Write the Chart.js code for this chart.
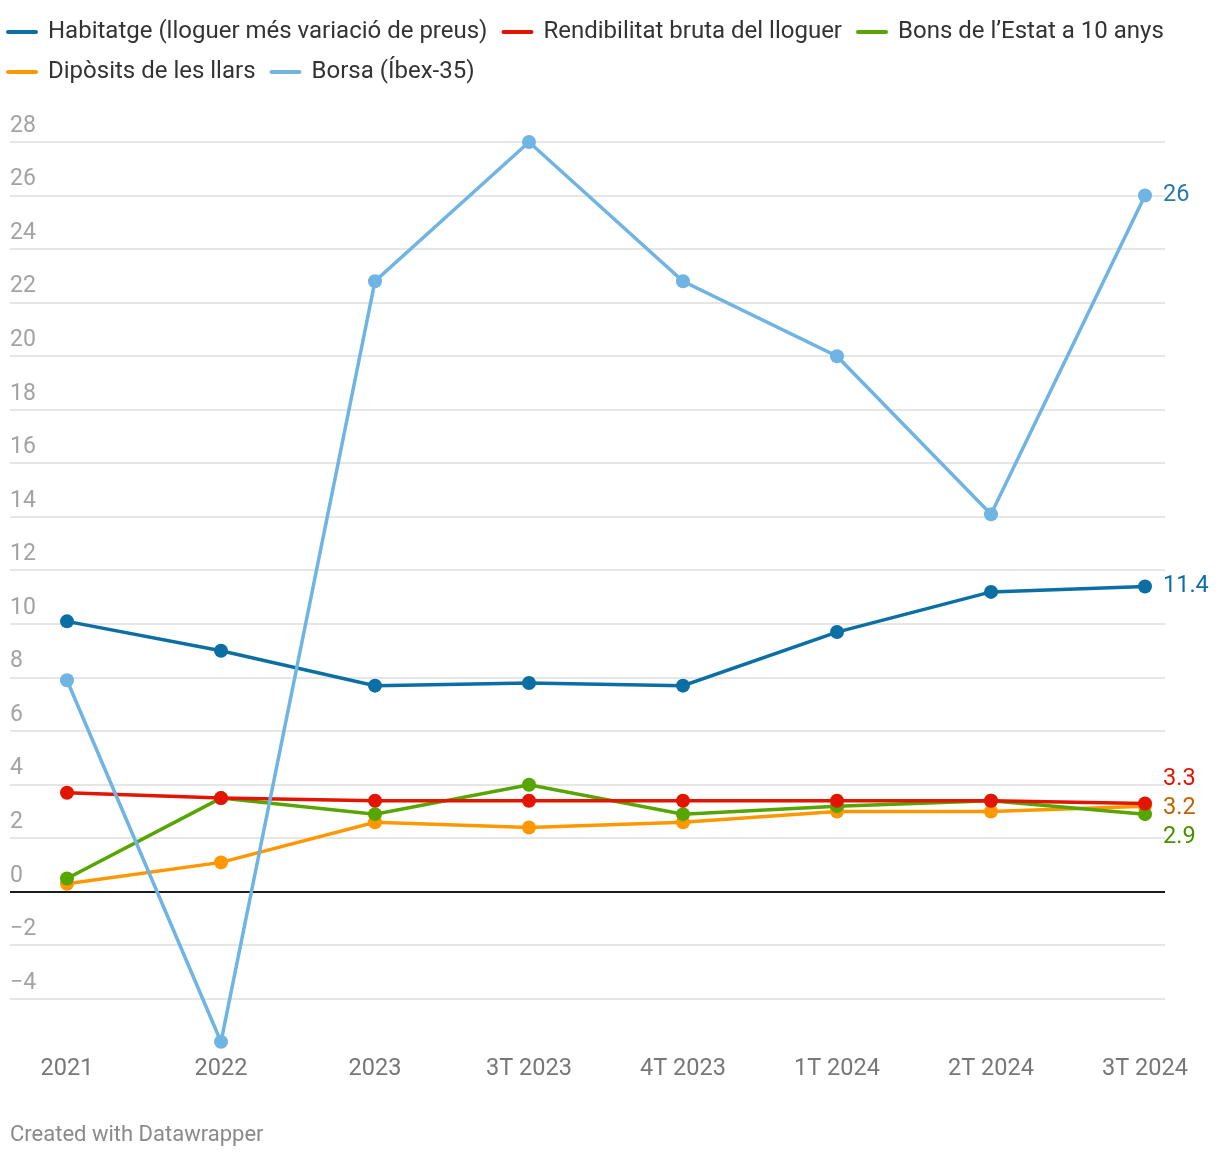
<!DOCTYPE html>
<html>
<head>
<meta charset="utf-8">
<script src="https://cdn.jsdelivr.net/npm/chart.js@4.4.1/dist/chart.umd.min.js"></script>
<style>
  body { margin: 0; background: #fff; font-family: Roboto, sans-serif; }
  #wrap { position: relative; width: 1220px; height: 1158px; }
  #credit { position: absolute; left: 10px; top: 1121px; font-size: 22px; color: #8a8a8a; }
</style>
</head>
<body>
<div id="wrap">
  <canvas id="myChart" width="1220" height="1158"></canvas>
  <div id="credit">Created with Datawrapper</div>
</div>
<script>
const ctx = document.getElementById('myChart');

const periods = ['2021', '2022', '2023', '3T 2023', '4T 2023', '1T 2024', '2T 2024', '3T 2024'];
const habitatge = [10.1, 9.0, 7.7, 7.8, 7.7, 9.7, 11.2, 11.4];
const rendibilitat = [3.7, 3.5, 3.4, 3.4, 3.4, 3.4, 3.4, 3.3];
const bons = [0.5, 3.5, 2.9, 4.0, 2.9, 3.2, 3.4, 2.9];
const diposits = [0.3, 1.1, 2.6, 2.4, 2.6, 3.0, 3.0, 3.2];
const borsa = [7.9, -5.6, 22.8, 28.0, 22.8, 20.0, 14.1, 26.0];

const seriesNames = ['Habitatge (lloguer més variació de preus)', 'Rendibilitat bruta del lloguer',
    'Bons de l\u2019Estat a 10 anys', 'Dipòsits de les llars', 'Borsa (Íbex-35)'];
const lineColors = ['#0b6fa4', '#e31400', '#56a500', '#ff9800', '#6fb4e3'];
const labelColors = ['#0b6fa4', '#e31400', '#4a8f00', '#c06400', '#2b78ac'];
// lower order -> drawn on top
const drawOrder = [1, 2, 3, 4, 0];

function makeSet(i, data) {
    return {
        label: seriesNames[i],
        data: data,
        borderColor: lineColors[i],
        backgroundColor: lineColors[i],
        borderWidth: 3.5,
        pointRadius: 7,
        pointHoverRadius: 7,
        pointBorderWidth: 0,
        borderCapStyle: 'round',
        tension: 0,
        order: drawOrder[i],
        clip: false,
    };
}

// gridlines across the full width, incl. the zero line
const gridPlugin = {
    id: 'grid',
    afterLayout(chart) {
        // legend sits flush with the left edge and at the very top
        chart.legend.left = 8 - chart.legend.options.labels.padding;
        chart.legend.top = 4;
    },
    beforeDatasetsDraw(chart) {
        const y = chart.scales.y;
        const c = chart.ctx;
        c.save();
        y.ticks.forEach(t => {
            const py = Math.round(y.getPixelForValue(t.value));
            c.beginPath();
            c.lineWidth = 2;
            c.strokeStyle = t.value === 0 ? '#1a1a1a' : '#e6e6e6';
            c.moveTo(10, py);
            c.lineTo(chart.chartArea.right + 20, py);
            c.stroke();
        });
        c.restore();
    }
};

// value labels at the end of each line, spread when they collide
const endLabels = {
    id: 'endLabels',
    afterDatasetsDraw(chart) {
        const c = chart.ctx;
        let items = chart.data.datasets.map((ds, i) => {
            const meta = chart.getDatasetMeta(i);
            const pt = meta.data[meta.data.length - 1];
            return { text: String(ds.data[ds.data.length - 1]), x: pt.x + 18, y: pt.y, color: labelColors[i] };
        }).sort((a, b) => a.y - b.y);
        const gap = 29;
        let groups = [];
        items.forEach(it => {
            const g = groups[groups.length - 1];
            if (g && it.y - g[g.length - 1].y < gap) g.push(it); else groups.push([it]);
        });
        groups.forEach(g => {
            const mean = g.reduce((a, b) => a + b.y, 0) / g.length;
            g.forEach((it, k) => it.y = mean + (k - (g.length - 1) / 2) * gap);
        });
        c.save();
        c.font = '23.5px Roboto';
        c.textBaseline = 'middle';
        c.textAlign = 'left';
        items.forEach(it => {
            c.fillStyle = it.color;
            c.fillText(it.text, it.x, it.y);
        });
        c.restore();
    }
};

let chart = new Chart(ctx, {
    type: 'line',
    plugins: [gridPlugin, endLabels],
    data: {
        labels: periods,
        datasets: [makeSet(0, habitatge), makeSet(1, rendibilitat), makeSet(2, bons), makeSet(3, diposits), makeSet(4, borsa)],
    },
    options: {
        responsive: false,
        animation: false,
        layout: { padding: { left: 10, right: 10, top: 52, bottom: 70 } },
        plugins: {
            tooltip: { enabled: false },
            legend: {
                position: 'top',
                align: 'start',
                labels: {
                    usePointStyle: true,
                    pointStyle: 'line',
                    pointStyleWidth: 28,
                    padding: 16,
                    color: '#333',
                    font: { family: 'Roboto', size: 24 },
                    sort: (a, b) => a.datasetIndex - b.datasetIndex,
                    generateLabels: ch => {
                        const items = Chart.defaults.plugins.legend.labels.generateLabels(ch);
                        items.forEach(it => {
                            it.lineWidth = 4;
                            it.strokeStyle = lineColors[it.datasetIndex];
                            it.lineCap = 'round';
                        });
                        return items;
                    },
                },
            },
        },
        scales: {
            x: {
                grid: { display: false },
                border: { display: false },
                ticks: { color: '#777', font: { family: 'Roboto', size: 23.5 }, padding: 5, maxRotation: 0 },
            },
            y: {
                min: -5.6,
                max: 28,
                grid: { display: false },
                border: { display: false },
                afterBuildTicks: s => { s.ticks = s.ticks.filter(t => Math.abs(t.value % 2) < 1e-9); },
                afterFit: s => { s.width = 57; },
                ticks: {
                    stepSize: 2,
                    crossAlign: 'far',
                    padding: 0,
                    labelOffset: -16,
                    color: '#a3a3a3',
                    font: { family: 'Roboto', size: 23 },
                    callback: v => v < 0 ? '\u2212' + Math.abs(v) : String(v),
                },
            },
            // reserves room on the right for the end labels
            yRight: {
                position: 'right',
                display: true,
                grid: { display: false },
                border: { display: false },
                ticks: { display: false },
                afterFit: s => { s.width = 65; },
            },
        },
    },
});
</script>
</body>
</html>
